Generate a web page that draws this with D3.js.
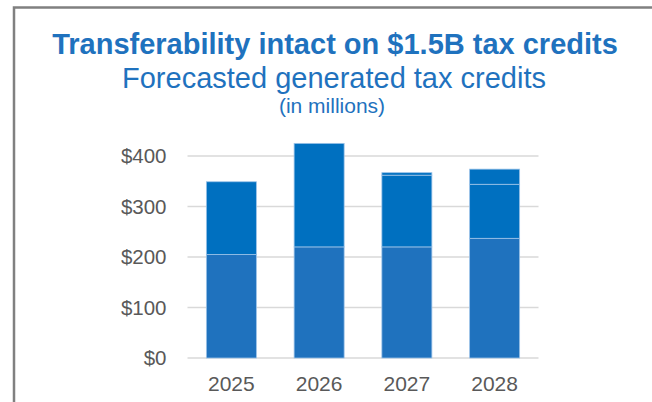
<!DOCTYPE html>
<html>
<head>
<meta charset="utf-8">
<script src="https://cdn.jsdelivr.net/npm/d3@7"></script>
<style>
  body { margin: 0; background: #fff; }
  svg { display: block; font-family: "Liberation Sans", Arial, sans-serif; }
</style>
</head>
<body>
<div id="chart"></div>
<script>
// valeurs (en millions)
const years = ["2025", "2026", "2027", "2028"];
const base = [205, 220, 220, 237];
const middle = [144, 205, 142, 107];
const extra = [0, 0, 5, 30];
const yTicks = [0, 100, 200, 300, 400];

const width = 652, height = 402;
const margin = { left: 187.5, right: 113.5, top: 156, bottom: 44 };

const svg = d3.select("#chart").append("svg")
    .attr("width", width)
    .attr("height", height);

// cadre gris (haut + gauche)
svg.append("path")
    .attr("d", "M14,402 V7.5 H652")
    .attr("fill", "none")
    .attr("stroke", "#808080")
    .attr("stroke-width", 2.5);

// titres
svg.append("text")
    .attr("x", 335).attr("y", 53.5)
    .attr("text-anchor", "middle")
    .attr("font-size", 29).attr("font-weight", "bold")
    .attr("fill", "#1F72BE")
    .text("Transferability intact on $1.5B tax credits");

svg.append("text")
    .attr("x", 334).attr("y", 88)
    .attr("text-anchor", "middle")
    .attr("font-size", 29)
    .attr("fill", "#1F72BE")
    .text("Forecasted generated tax credits");

svg.append("text")
    .attr("x", 332).attr("y", 113)
    .attr("text-anchor", "middle")
    .attr("font-size", 21)
    .attr("fill", "#1F72BE")
    .text("(in millions)");

const x = d3.scaleBand()
    .domain(years)
    .range([margin.left, width - margin.right])
    .paddingInner(0.43)
    .paddingOuter(0.215);

const y = d3.scaleLinear()
    .domain([0, 400])
    .range([358, 156]);

// grille
svg.append("g")
    .selectAll("line")
    .data(yTicks)
    .join("line")
    .attr("x1", margin.left)
    .attr("x2", width - margin.right)
    .attr("y1", d => y(d))
    .attr("y2", d => y(d))
    .attr("stroke", "#d9d9d9")
    .attr("stroke-width", 1.5);

// axe y
const yAxis = svg.append("g")
    .attr("transform", `translate(${margin.left},0)`)
    .call(d3.axisLeft(y).tickValues(yTicks).tickSize(0).tickPadding(21).tickFormat(d => "$" + d));
yAxis.select(".domain").remove();
yAxis.selectAll("text")
    .attr("font-size", 20.5)
    .attr("fill", "#595959")
    .attr("font-family", "Liberation Sans, Arial, sans-serif");

// axe x
const xAxis = svg.append("g")
    .attr("transform", `translate(0,${y(0)})`)
    .call(d3.axisBottom(x).tickSize(0).tickPadding(18));
xAxis.select(".domain").remove();
xAxis.selectAll("text")
    .attr("font-size", 21)
    .attr("fill", "#595959")
    .attr("font-family", "Liberation Sans, Arial, sans-serif");

// barres empilées
const rows = years.map((yr, i) => ({ year: yr, base: base[i], middle: middle[i], extra: extra[i] }));
const stack = d3.stack().keys(["base", "middle", "extra"]);
const series = stack(rows);
const colors = { base: "#1F72BE", middle: "#0070C0", extra: "#0070C0" };

svg.append("g")
    .selectAll("g")
    .data(series)
    .join("g")
    .attr("fill", d => colors[d.key])
    .selectAll("rect")
    .data(d => d.filter(p => p[1] > p[0]))
    .join("rect")
    .attr("x", d => x(d.data.year))
    .attr("width", x.bandwidth())
    .attr("y", d => y(d[1]))
    .attr("height", d => y(d[0]) - y(d[1]))
    .attr("stroke", "#9cc3e8")
    .attr("stroke-width", 0.8);
</script>
</body>
</html>
